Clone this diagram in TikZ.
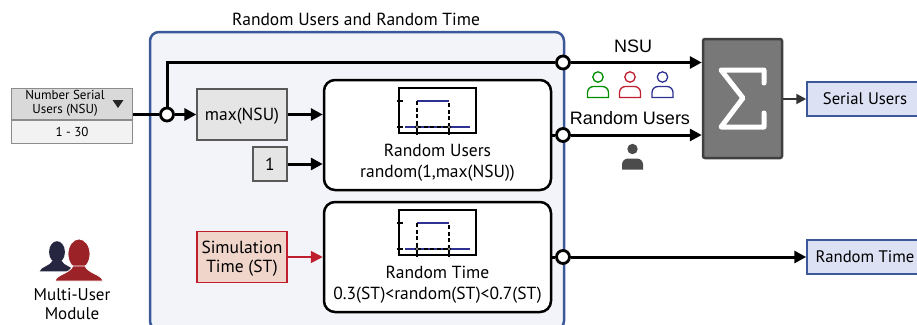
\documentclass[tikz,border=0pt]{standalone}
\usepackage{fontspec}
\setmainfont{PT Sans}
\newfontfamily\wirefont{Liberation Sans}
\usetikzlibrary{arrows.meta}
\definecolor{panelblue}{HTML}{3B5998}
\definecolor{panelfill}{HTML}{F3F4F9}
\definecolor{outfill}{HTML}{DCE1F3}
\definecolor{simfill}{HTML}{F0D5CA}
\definecolor{simred}{HTML}{BE1E2D}
\definecolor{plotblue}{HTML}{2E3192}
\definecolor{navyuser}{HTML}{262640}
\definecolor{reduser}{HTML}{9B2226}
\tikzset{
  person/.pic={
    \path[pic actions] (0,0) circle (5.2);
    \path[pic actions] (-10.5,20.5) [rounded corners=6] -- (-10.5,9.5) -- (10.5,9.5) [sharp corners] -- (10.5,20.5) -- cycle;
  },
  bust/.pic={
    \path[pic actions] (0,0) ellipse (11 and 15);
    \path[pic actions] (-24,27) .. controls (-22,20) and (-10,20) .. (-6,12) -- (6,12) .. controls (10,20) and (22,20) .. (24,27) -- cycle;
  },
  rangeplot/.pic={
    \draw[line width=1.1] (0,0) rectangle (77,45);
    \draw[plotblue, line width=1.1] (18,13) -- (50,13) (6,39) -- (71,39);
    \draw[line width=1.1, dash pattern=on 4pt off 2.5pt] (18,13) -- (18,39) -- (50,39) -- (50,13);
    \draw[line width=1.1] (-2,13) -- (4,13) (-2,39) -- (4,39) (18,39) -- (18,47) (50,39) -- (50,47);
    \foreach \tickx in {18,50}
      \draw[line width=.9, fill=white] (\tickx,39) circle (1.7);
  }
}
\begin{document}
\begin{tikzpicture}[x=1pt, y=-1pt,
  every node/.style={inner sep=0pt, align=center, font=\fontsize{17.5}{21}\selectfont},
  panel/.style={draw=panelblue, fill=panelfill, line width=2.5pt, rounded corners=9pt, minimum width=414pt, minimum height=298pt},
  funcbox/.style={draw, fill=white, line width=2.5pt, rounded corners=11pt, minimum width=227pt, minimum height=110pt},
  greybox/.style={draw=black!65, fill=black!10, line width=1.3pt, minimum height=51pt, text depth=0pt, font=\fontsize{17.5}{19}\selectfont},
  outbox/.style={draw=panelblue, fill=outfill, line width=1.5pt, minimum width=116pt, minimum height=34pt, text depth=0pt, font=\fontsize{16.7}{20}\selectfont},
  nsubox/.style={draw=black!45, line width=1pt, minimum width=121pt, font=\fontsize{13}{13.5}\selectfont},
  junction/.style={circle, draw, fill=white, line width=2.8pt, minimum size=13pt},
  wirelabel/.style={font=\wirefont\fontsize{18}{20}\selectfont},
  wire/.style={line width=3pt},
  flow/.style={wire, -{Triangle[length=12pt,width=12pt]}}]
  \useasboundingbox (0,0) rectangle (917,324);

  \node[panel] (group) at (357,181) {};
  \node (grouptitle) at (356,19) {Random Users and Random Time};

  \node[nsubox, fill=black!15, minimum height=31pt, anchor=north west] (nsuhead) at (11,88) {};
  \node[nsubox, fill=black!5, minimum height=23pt, anchor=north] (nsurange) at (nsuhead.south) {1 - 30};
  \node[font=\fontsize{13}{13.5}\selectfont] (nsutext) at (65,103.5) {Number Serial\\Users (NSU)};
  \fill[black!85] (112.5,100) -- (123.5,100) -- (118,108) -- cycle;

  \node[greybox, minimum width=90pt] (maxnsu) at (242,114.5) {max(NSU)};
  \node[greybox, minimum width=34pt, minimum height=34pt] (one) at (270,164) {1};
  \node[greybox, draw=simred, fill=simfill, minimum width=90pt] (simtime) at (242,257) {Simulation\\Time (ST)};

  \node[funcbox] (randusers) at (437.5,135) {};
  \node[funcbox] (randtime) at (437.5,257) {};
  \foreach \ploty in {88,210}
    \pic at (399,\ploty) {rangeplot};
  \node (randuserstext) at (437.5,162.5) {Random Users\\random(1,max(NSU))};
  \node (randtimetext) at (437.5,284.5) {Random Time\\0.3(ST)<random(ST)<0.7(ST)};

  \node[draw=black!75, fill=black!53, line width=2.5pt, rounded corners=2pt, minimum width=79pt, minimum height=119pt] (sumbox) at (742.5,98.5) {};
  \draw[white, line width=5pt, line cap=round, line join=round] (764,83) -- (764,70) -- (721,70) -- (743,98) -- (721,127) -- (764,127) -- (764,113);

  \node[outbox] (serialusers) at (865,99) {Serial Users};
  \node[outbox] (outtime) at (865,257) {Random Time};

  \node[junction] (jin) at (167,114.5) {};
  \node[junction] (jnsu) at (563,62.5) {};
  \node[junction] (jusers) at (563,135) {};
  \node[junction] (jtime) at (563,257) {};

  \draw[wire] (nsuhead.east |- jin) -- (jin);
  \draw[wire] (jin) |- (jnsu);
  \draw[flow] (jin) -- (maxnsu);
  \draw[flow] (maxnsu) -- (maxnsu -| randusers.west);
  \draw[flow] (one) -- (one -| randusers.west);
  \draw[draw=simred, line width=1.8pt, -{Triangle[length=12pt,width=12pt,fill=simred]}] (simtime) -- (randtime);
  \draw[wire] (randusers) -- (jusers);
  \draw[wire] (randtime) -- (jtime);
  \draw[flow] (jnsu) -- (jnsu -| sumbox.west);
  \draw[flow] (jusers) -- (jusers -| sumbox.west);
  \draw[flow] (jtime) -- (outtime);
  \draw[line width=2pt, draw=black!80, -{Triangle[length=10pt,width=10pt]}] (sumbox.east |- serialusers) -- (serialusers);

  \node[wirelabel] (nsulabel) at (633,46) {NSU};
  \node[wirelabel] (ruserslabel) at (630,118.5) {Random Users};

  \pic[draw=green!55!black, line width=1.3pt] at (598,77) {person};
  \pic[draw=simred, line width=1.3pt] at (630,77) {person};
  \pic[draw=plotblue, line width=1.3pt] at (662.5,77) {person};
  \pic[fill=black!70] at (632.5,149) {person};

  \pic[fill=navyuser, scale=.72] at (57,252) {bust};
  \pic[fill=reduser, draw=white, line width=.8pt] at (79,254) {bust};
  \node[font=\fontsize{17}{18.5}\selectfont] (moduletext) at (72,304) {Multi-User\\Module};
\end{tikzpicture}
\end{document}
